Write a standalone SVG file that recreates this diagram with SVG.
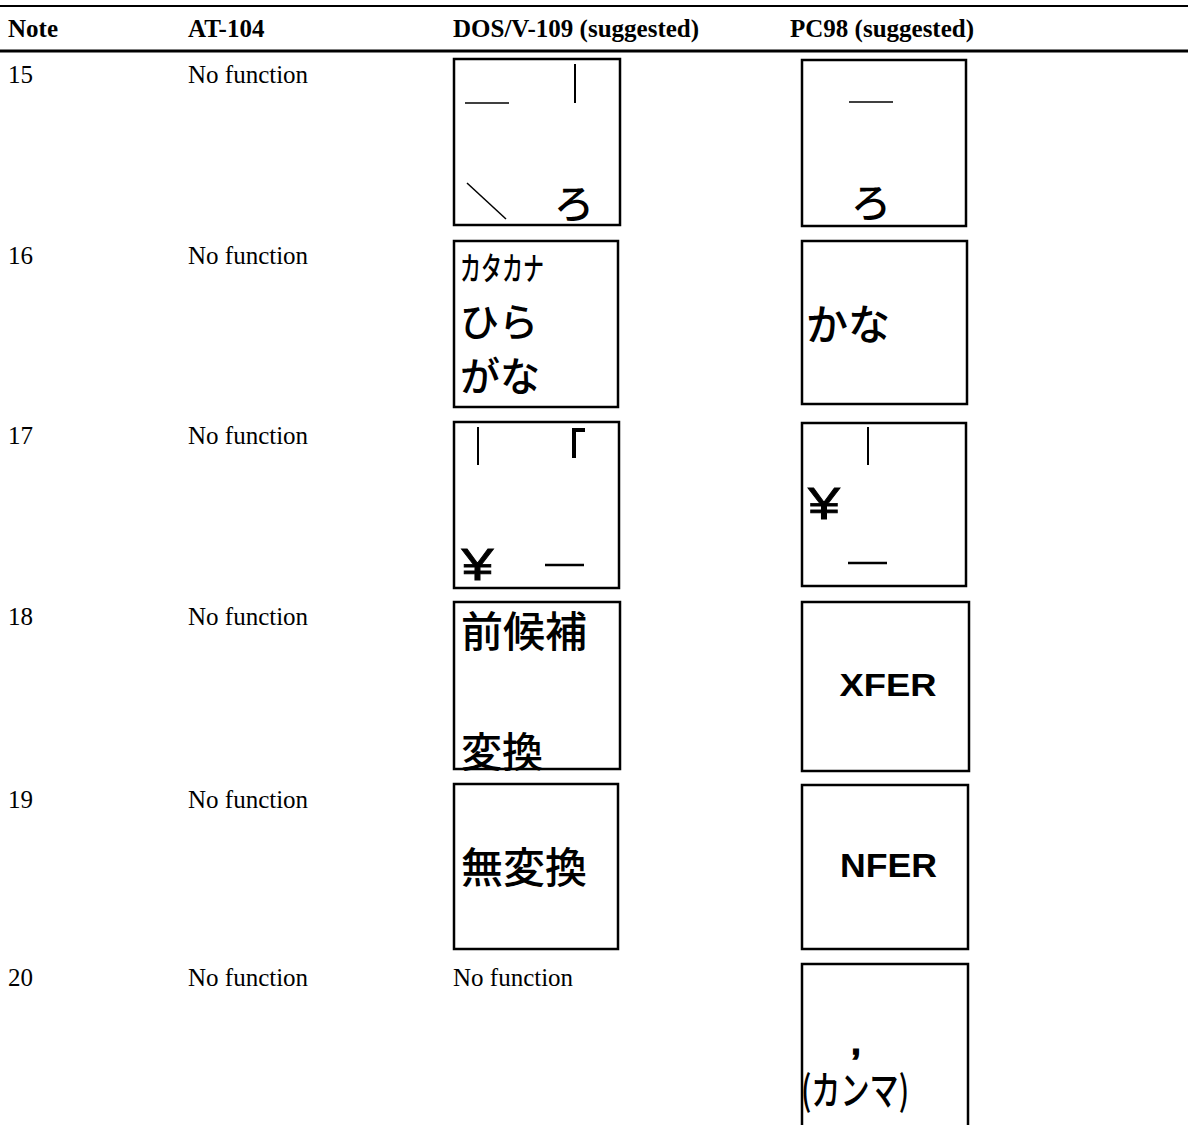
<svg xmlns="http://www.w3.org/2000/svg" width="1188" height="1125" viewBox="0 0 1188 1125">
<style>
.h{font-family:"Liberation Serif","Times New Roman",serif;font-size:25px;font-weight:bold;fill:#000}
.t{font-family:"Liberation Serif","Times New Roman",serif;font-size:25px;fill:#000}
.key{fill:#fff;stroke:#000;stroke-width:2.5}
.ln{stroke:#000;fill:none}
.jp{font-family:"Noto Sans CJK JP","Noto Sans CJK SC",sans-serif;font-weight:500;fill:#000;dominant-baseline:central}
.en{font-family:"Liberation Sans",Arial,sans-serif;font-weight:bold;fill:#000}
.yen{font-family:"Liberation Sans",Arial,sans-serif;fill:#000;stroke:#000;stroke-width:0.8}
</style>
<rect x="0" y="0" width="1188" height="1125" fill="#fff"/>
<g id="rules">
<line class="ln" x1="0" y1="6" x2="1188" y2="6" stroke-width="2"/>
<line class="ln" x1="0" y1="51" x2="1188" y2="51" stroke-width="3"/>
</g>
<g id="header">
<text class="h" x="8" y="37">Note</text>
<text class="h" x="188" y="37">AT-104</text>
<text class="h" x="453" y="37">DOS/V-109 (suggested)</text>
<text class="h" x="790" y="37">PC98 (suggested)</text>
</g>
<g id="row15">
<text class="t" x="8" y="83">15</text>
<text class="t" x="188" y="83">No function</text>
<g id="key15-dosv">
<rect class="key" x="454" y="59" width="166" height="166"/>
<line class="ln" x1="465" y1="103" x2="509" y2="103" stroke-width="1.5"/>
<line class="ln" x1="575" y1="64" x2="575" y2="103" stroke-width="2"/>
<line class="ln" x1="467" y1="183" x2="506" y2="219" stroke-width="1.5"/>
<text class="jp" x="574" y="201" font-size="40" text-anchor="middle">ろ</text>
</g>
<g id="key15-pc98">
<rect class="key" x="802" y="60" width="164" height="166"/>
<line class="ln" x1="849" y1="102" x2="893" y2="102" stroke-width="1.5"/>
<text class="jp" x="871" y="200" font-size="40" text-anchor="middle">ろ</text>
</g>
</g>
<g id="row16">
<text class="t" x="8" y="264">16</text>
<text class="t" x="188" y="264">No function</text>
<g id="key16-dosv">
<rect class="key" x="454" y="241" width="164" height="166"/>
<text class="jp" x="460" y="266" font-size="32" font-weight="400" textLength="84" lengthAdjust="spacingAndGlyphs">カタカナ</text>
<text class="jp" x="460" y="319" font-size="39">ひら</text>
<text class="jp" x="460" y="374" font-size="40">がな</text>
</g>
<g id="key16-pc98">
<rect class="key" x="802" y="241" width="165" height="163"/>
<text class="jp" x="806" y="321" font-size="42">かな</text>
</g>
</g>
<g id="row17">
<text class="t" x="8" y="444">17</text>
<text class="t" x="188" y="444">No function</text>
<g id="key17-dosv">
<rect class="key" x="454" y="422" width="165" height="166"/>
<line class="ln" x1="478" y1="427" x2="478" y2="465" stroke-width="2"/>
<polyline class="ln" points="585,430 574,430 574,458" stroke-width="4"/>
<text class="yen" x="477.5" y="580" font-size="44" text-anchor="middle" textLength="32" lengthAdjust="spacingAndGlyphs">¥</text>
<line class="ln" x1="545" y1="565" x2="584" y2="565" stroke-width="2.5"/>
</g>
<g id="key17-pc98">
<rect class="key" x="802" y="423" width="164" height="163"/>
<line class="ln" x1="868" y1="427" x2="868" y2="465" stroke-width="2"/>
<text class="yen" x="824" y="519" font-size="44" text-anchor="middle" textLength="32" lengthAdjust="spacingAndGlyphs">¥</text>
<line class="ln" x1="848" y1="563" x2="887" y2="563" stroke-width="2.5"/>
</g>
</g>
<g id="row18">
<text class="t" x="8" y="625">18</text>
<text class="t" x="188" y="625">No function</text>
<g id="key18-dosv">
<rect class="key" x="454" y="602" width="166" height="167"/>
<text class="jp" x="461" y="628" font-size="42">前候補</text>
<text class="jp" x="461" y="749" font-size="41">変換</text>
</g>
<g id="key18-pc98">
<rect class="key" x="802" y="602" width="167" height="169"/>
<text class="en" x="888" y="696" font-size="32" text-anchor="middle" textLength="97" lengthAdjust="spacingAndGlyphs">XFER</text>
</g>
</g>
<g id="row19">
<text class="t" x="8" y="808">19</text>
<text class="t" x="188" y="808">No function</text>
<g id="key19-dosv">
<rect class="key" x="454" y="784" width="164" height="165"/>
<text class="jp" x="461" y="864" font-size="42">無変換</text>
</g>
<g id="key19-pc98">
<rect class="key" x="802" y="785" width="166" height="164"/>
<text class="en" x="888.5" y="877" font-size="33" text-anchor="middle" textLength="97" lengthAdjust="spacingAndGlyphs">NFER</text>
</g>
</g>
<g id="row20">
<text class="t" x="8" y="986">20</text>
<text class="t" x="188" y="986">No function</text>
<text class="t" x="453" y="986">No function</text>
<g id="key20-pc98">
<rect class="key" x="802" y="964" width="166" height="200"/>
<text class="en" x="856" y="1054" font-size="32" text-anchor="middle" stroke="#000" stroke-width="1.5">,</text>
<text class="jp" x="801" y="1088" font-size="40" font-weight="400" textLength="108" lengthAdjust="spacingAndGlyphs">(カンマ)</text>
</g>
</g>
</svg>
